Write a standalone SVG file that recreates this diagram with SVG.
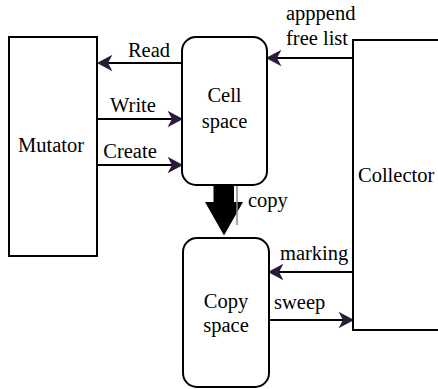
<svg xmlns="http://www.w3.org/2000/svg" width="438" height="389" viewBox="0 0 438 389">
<style>
.box{fill:#fff;stroke:#000;stroke-width:2}
text{font-family:'Liberation Serif','DejaVu Serif',serif;font-size:20.5px;fill:#000}
.m{text-anchor:middle}
.ln{stroke:#000;stroke-width:2;fill:none}
</style>
<defs>
<marker id="ah" markerUnits="userSpaceOnUse" markerWidth="20" markerHeight="20" viewBox="-1 -9 18 18" refX="4" refY="0" orient="auto">
<path d="M0,-7.5 L14,0 L0,7.5 L4,0 Z" fill="#2a1b3d"/>
</marker>
</defs>
<rect width="438" height="389" fill="#fff"/>
<g id="connectors" font-family="Liberation Serif, serif">
<line class="ln" x1="182" y1="63" x2="108" y2="63" marker-end="url(#ah)"/>
<line class="ln" x1="97" y1="119" x2="172" y2="119" marker-end="url(#ah)"/>
<line class="ln" x1="97" y1="165" x2="172" y2="165" marker-end="url(#ah)"/>
<line class="ln" x1="353" y1="58" x2="277" y2="58" marker-end="url(#ah)"/>
<line class="ln" x1="353" y1="272" x2="279" y2="272" marker-end="url(#ah)"/>
<line class="ln" x1="269" y1="320" x2="343" y2="320" marker-end="url(#ah)"/>
<polygon points="213.5,185 234,185 234,202 243,202 224,235.5 205,202 213.5,202" fill="#000"/>
<line x1="237" y1="186" x2="237" y2="225" stroke="#888" stroke-width="1.5"/>
<text x="149" y="57" class="m">Read</text>
<text x="133" y="112" class="m">Write</text>
<text x="130" y="158" class="m">Create</text>
<text x="286" y="20">apppend</text>
<text x="286" y="45">free list</text>
<text x="248" y="207">copy</text>
<text x="280" y="260">marking</text>
<text x="274" y="309">sweep</text>
</g>
<g id="mutator">
<rect class="box" x="9" y="37" width="88" height="219"/>
<text class="m" x="51" y="152">Mutator</text>
</g>
<g id="cell-space">
<rect class="box" x="182" y="37" width="85" height="148" rx="14" ry="14"/>
<text class="m" x="224.5" y="102">Cell</text>
<text class="m" x="224.5" y="128">space</text>
</g>
<g id="copy-space">
<rect class="box" x="183" y="238" width="86" height="149" rx="14" ry="14"/>
<text class="m" x="226" y="308">Copy</text>
<text class="m" x="226" y="332">space</text>
</g>
<g id="collector">
<rect class="box" x="353" y="40" width="100" height="290"/>
<text x="358" y="182">Collector</text>
</g>
</svg>
